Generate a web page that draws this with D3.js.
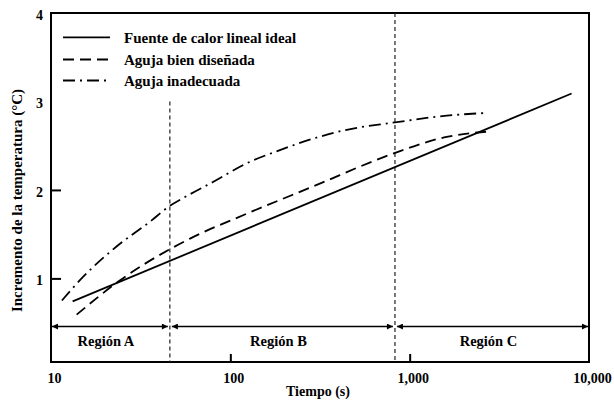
<!DOCTYPE html>
<html>
<head>
<meta charset="utf-8">
<script src="https://cdn.jsdelivr.net/npm/d3@7"></script>
<style>
  html, body { margin: 0; padding: 0; background: #fff; }
  svg { display: block; }
  text { font-family: "Liberation Serif", "Times New Roman", serif; font-weight: bold; fill: #000; }
</style>
</head>
<body>
<div id="chart"></div>
<script>
// ---- data ----
const xTickValues = [10, 100, 1000, 10000];
const xTickLabels = ["10", "100", "1,000", "10,000"];
const yTickValues = [1, 2, 3, 4];
const yTickLabels = ["1", "2", "3", "4"];

const seriesNames = ["Fuente de calor lineal ideal", "Aguja bien diseñada", "Aguja inadecuada"];

const idealTime = [13.2, 8000];
const idealTemp = [0.74, 3.09];

const goodTime = [13.9, 24.3, 46, 59.6, 123, 290, 807, 1609, 2745];
const goodTemp = [0.59, 0.98, 1.33, 1.45, 1.73, 2.04, 2.41, 2.60, 2.66];

const badTime = [11.5, 14.5, 23.2, 35.6, 46, 57, 80, 123, 189, 290, 446, 807, 1609, 2666];
const badTemp = [0.75, 0.98, 1.36, 1.64, 1.82, 1.93, 2.09, 2.30, 2.45, 2.58, 2.68, 2.76, 2.84, 2.87];

const regionNames = ["Región A", "Región B", "Región C"];
const regionBounds = [10, 46, 828, 10000];
const dividerTop = [3.0, 4.0];

const xTitle = "Tiempo (s)";
const yTitle = "Incremento de la temperatura (°C)";

(function () {
// ---- layout ----
const W = 614, H = 400;
const pLeft = 51, pRight = 589, pTop = 13, pBottom = 362;

const svg = d3.select("#chart").append("svg").attr("width", W).attr("height", H);

const x = d3.scaleLog().domain([10, 10000]).range([pLeft, pRight]);
const y = d3.scaleLinear().domain([0.055, 4]).range([pBottom, pTop]);

// markers
const defs = svg.append("defs");
defs.append("marker").attr("id", "arrEnd").attr("viewBox", "0 0 10 10")
  .attr("refX", 10).attr("refY", 5).attr("markerWidth", 8).attr("markerHeight", 6)
  .attr("markerUnits", "userSpaceOnUse").attr("orient", "auto")
  .append("path").attr("d", "M0,0 L10,5 L0,10 Z").attr("fill", "#000");
defs.append("marker").attr("id", "arrStart").attr("viewBox", "0 0 10 10")
  .attr("refX", 0).attr("refY", 5).attr("markerWidth", 8).attr("markerHeight", 6)
  .attr("markerUnits", "userSpaceOnUse").attr("orient", "auto")
  .append("path").attr("d", "M10,0 L0,5 L10,10 Z").attr("fill", "#000");

// frame
svg.append("rect").attr("x", pLeft).attr("y", pTop)
  .attr("width", pRight - pLeft).attr("height", pBottom - pTop)
  .attr("fill", "none").attr("stroke", "#000").attr("stroke-width", 2);

// y ticks (inside) and labels
const yAxis = d3.axisLeft(y).tickValues(yTickValues).tickSizeInner(-10).tickSizeOuter(0)
  .tickPadding(18).tickFormat((d, i) => yTickLabels[i]);
const gy = svg.append("g").attr("transform", `translate(${pLeft},0)`).call(yAxis);
gy.select(".domain").remove();
gy.selectAll(".tick line").attr("stroke", "#000").attr("stroke-width", 2)
  .attr("display", d => (d === 1 || d === 2) ? null : "none");
gy.selectAll(".tick text").attr("font-size", 14).attr("font-family", "Liberation Serif")
  .attr("font-weight", "bold").attr("fill", "#000").attr("x", -8).attr("dy", "0.45em");

// x ticks (inside) and labels
const xAxis = d3.axisBottom(x).tickValues(xTickValues).tickSizeInner(-8).tickSizeOuter(0)
  .tickPadding(18).tickFormat((d, i) => xTickLabels[i]);
const gx = svg.append("g").attr("transform", `translate(0,${pBottom})`).call(xAxis);
gx.select(".domain").remove();
gx.selectAll(".tick line").attr("stroke", "#000").attr("stroke-width", 2)
  .attr("display", d => (d === 100 || d === 1000) ? null : "none");
gx.selectAll(".tick text").attr("font-size", 14).attr("font-family", "Liberation Serif")
  .attr("font-weight", "bold").attr("fill", "#000").attr("dx", 3).attr("y", 21).attr("dy", 0);

// titles
svg.append("text").attr("x", 318).attr("y", 396).attr("text-anchor", "middle")
  .attr("font-size", 14).text(xTitle);
svg.append("text").attr("transform", `translate(21.5,200.5) rotate(-90)`)
  .attr("text-anchor", "middle").attr("font-size", 15).text(yTitle);

// divider lines
[regionBounds[1], regionBounds[2]].forEach((b, i) => {
  svg.append("line").attr("x1", x(b)).attr("x2", x(b))
    .attr("y1", y(dividerTop[i])).attr("y2", pBottom)
    .attr("stroke", "#222").attr("stroke-width", 1.2).attr("stroke-dasharray", "4,3");
});

// region arrows
const arrowY = 326.5;
regionNames.forEach((name, i) => {
  const x0 = x(regionBounds[i]) + (i === 0 ? 1 : 2);
  const x1 = x(regionBounds[i + 1]) - (i === 2 ? 1 : 2);
  svg.append("line").attr("x1", x0).attr("x2", x1).attr("y1", arrowY).attr("y2", arrowY)
    .attr("stroke", "#000").attr("stroke-width", 1.5)
    .attr("marker-start", "url(#arrStart)").attr("marker-end", "url(#arrEnd)");
  svg.append("text").attr("x", (x0 + x1) / 2 - 4).attr("y", 346).attr("text-anchor", "middle")
    .attr("font-size", 14.5).text(name);
});

// series
const line = d3.line().x(d => x(d[0])).y(d => y(d[1])).curve(d3.curveMonotoneX);
const series = [
  { t: idealTime, v: idealTemp, dash: null },
  { t: goodTime, v: goodTemp, dash: "11,6" },
  { t: badTime, v: badTemp, dash: "12,5,2,5" }
];
series.forEach(s => {
  svg.append("path").datum(s.t.map((t, i) => [t, s.v[i]]))
    .attr("d", line).attr("fill", "none").attr("stroke", "#000").attr("stroke-width", 1.8)
    .attr("stroke-dasharray", s.dash);
});

// legend
const legY = [37.3, 59.5, 80.5];
seriesNames.forEach((name, i) => {
  svg.append("line").attr("x1", 63).attr("x2", 110).attr("y1", legY[i]).attr("y2", legY[i])
    .attr("stroke", "#000").attr("stroke-width", 1.8).attr("stroke-dasharray", series[i].dash);
  svg.append("text").attr("x", 124).attr("y", legY[i] + 5.5).attr("font-size", 15).text(name);
});
})();
</script>
</body>
</html>
